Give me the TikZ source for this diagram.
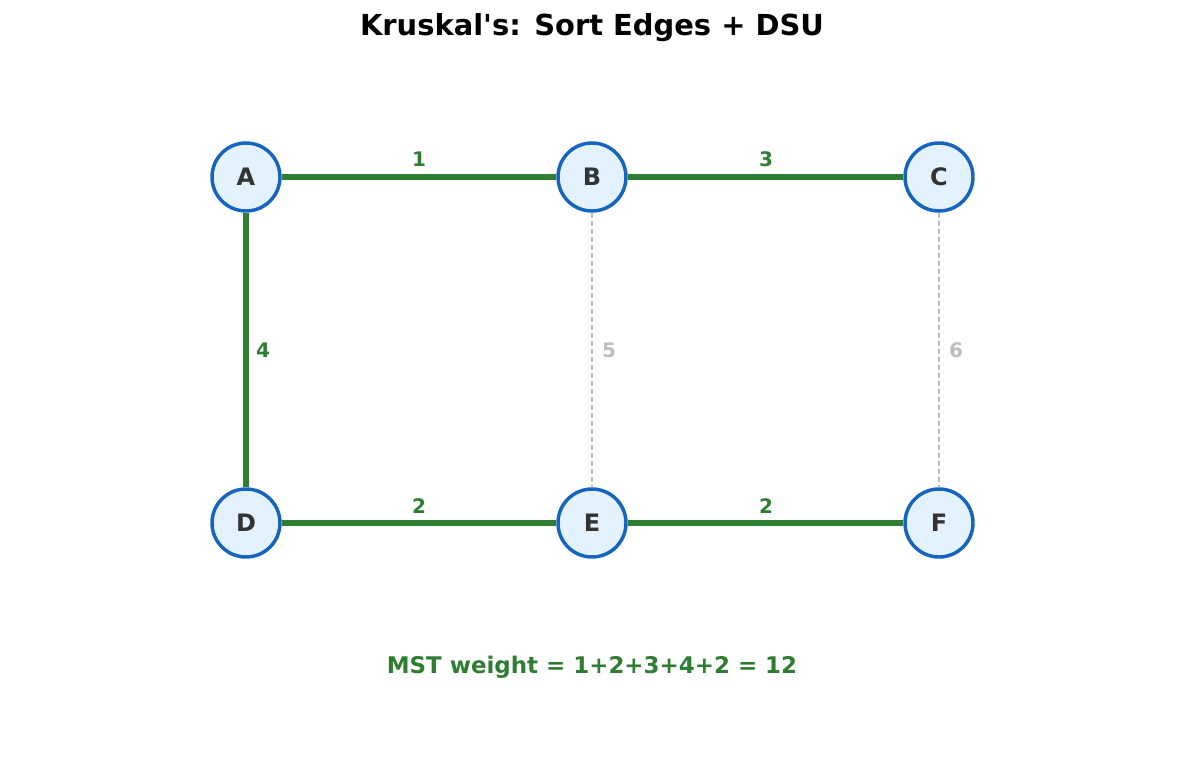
\documentclass[tikz,border=0pt]{standalone}
\usepackage{fontspec}
\setmainfont[Mapping=]{DejaVu Sans}
\definecolor{gr}{HTML}{2E7D32}
\definecolor{nb}{HTML}{1565C0}
\definecolor{nf}{HTML}{E3F2FD}
\definecolor{gy}{HTML}{BDBDBD}
\definecolor{tx}{HTML}{333333}
\begin{document}
\begin{tikzpicture}[x=0.75pt,y=-0.75pt,
  vert/.style={circle,draw=nb,fill=nf,line width=2.6pt,minimum size=51pt,inner sep=0pt,font=\fontsize{18}{21}\selectfont\bfseries,text=tx},
  mst/.style={draw=gr,line width=3.8pt},
  rej/.style={draw=gy,line width=1.1pt,dash pattern=on 4pt off 2pt},
  wl/.style={font=\fontsize{15}{18}\selectfont\bfseries,text=gr},
  wr/.style={font=\fontsize{15}{18}\selectfont\bfseries,text=gy}]
\useasboundingbox (0,0) rectangle (1185,770);
\node[font=\fontsize{21.7}{25}\selectfont\bfseries] (title) at (592,28) {Kruskal\textquotesingle s: Sort Edges + DSU};
\node[vert] (A) at (246,177) {A};
\node[vert] (B) at (592,177) {B};
\node[vert] (C) at (939,177) {C};
\node[vert] (D) at (246,523) {D};
\node[vert] (E) at (592,523) {E};
\node[vert] (F) at (939,523) {F};
\draw[rej] (B) -- (E);
\draw[rej] (C) -- (F);
\draw[mst] (A) -- (B);
\draw[mst] (B) -- (C);
\draw[mst] (A) -- (D);
\draw[mst] (D) -- (E);
\draw[mst] (E) -- (F);
\node[wl] (w1) at (419,159) {1};
\node[wl] (w3) at (766,159) {3};
\node[wl] (w4) at (263,350) {4};
\node[wl] (w2a) at (419,506) {2};
\node[wl] (w2b) at (766,506) {2};
\node[wr] (w5) at (609,350) {5};
\node[wr] (w6) at (956,350) {6};
\node[wl,font=\fontsize{17.2}{20}\selectfont\bfseries] (tot) at (592,667) {MST weight = 1+2+3+4+2 = 12};
\end{tikzpicture}
\end{document}
